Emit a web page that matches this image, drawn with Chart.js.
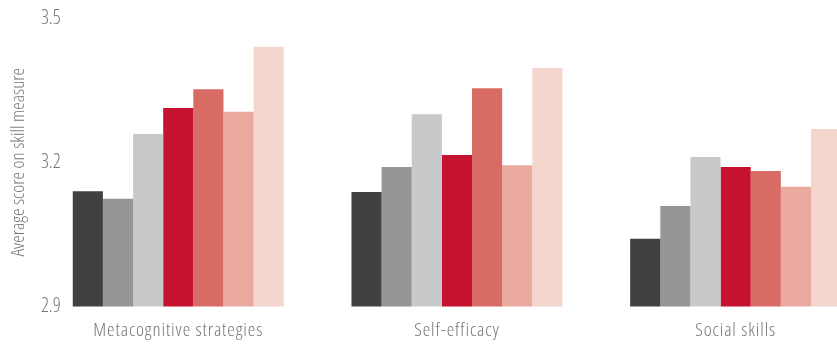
<!DOCTYPE html>
<html>
<head>
<meta charset="utf-8">
<script src="https://cdn.jsdelivr.net/npm/chart.js@4.4.1/dist/chart.umd.min.js"></script>
<style>
  html, body { margin: 0; padding: 0; background: #ffffff; overflow: hidden; }
  #wrap { width: 837px; height: 345px; overflow: hidden; position: relative; }
  canvas { display: block; }
</style>
</head>
<body>
<div id="wrap"><canvas id="c" width="875" height="345"></canvas></div>
<script>
const categories = ['Metacognitive strategies', 'Self-efficacy', 'Social skills'];
const seriesNames = ['Series 1', 'Series 2', 'Series 3', 'Series 4', 'Series 5', 'Series 6', 'Series 7'];
const series1 = [3.140, 3.138, 3.041];
const series2 = [3.124, 3.190, 3.109];
const series3 = [3.259, 3.300, 3.211];
const series4 = [3.313, 3.215, 3.190];
const series5 = [3.352, 3.354, 3.182];
const series6 = [3.305, 3.194, 3.149];
const series7 = [3.440, 3.396, 3.269];
const yTicks = [2.9, 3.2, 3.5];
const yTitle = 'Average score on skill measure';
const colors = ['#414141', '#959698', '#c8c9cb', '#c41230', '#d86b63', '#eaa99e', '#f4d6cf'];

const allSeries = [series1, series2, series3, series4, series5, series6, series7];
const TEXT = '#767676';
const X_SPACING = 0.9;

// pick a light condensed face that is installed
const mctx = document.createElement('canvas').getContext('2d');
function w(font, text) { mctx.font = font; return mctx.measureText(text).width; }
const probe = 'Metacognitive strategies 0123';
function installed(fam) {
  return w('40px ' + fam + ', monospace', probe) !== w('40px monospace', probe) ||
         w('40px ' + fam + ', serif', probe) !== w('40px serif', probe);
}
const cands = [
  { family: "'Open Sans'", weight: '300 condensed', stretch: true },
  { family: "'Noto Sans'", weight: '300 condensed', stretch: true },
  { family: "'Open Sans Condensed'", weight: '300' },
  { family: "'Noto Sans Condensed'", weight: '300' },
  { family: "'Liberation Sans Narrow'", weight: 'normal' },
  { family: "'DejaVu Sans Condensed'", weight: 'normal' }
];
let pick = cands[cands.length - 1];
for (const c of cands) {
  if (!installed(c.family)) continue;
  if (c.stretch) {
    const base = w('300 40px ' + c.family, probe);
    const cond = w(c.weight + ' 40px ' + c.family, probe);
    if (!(cond < base * 0.9)) continue;
  }
  pick = c; break;
}
function sizeFor(text, target, spacing, maxSize) {
  const s = 40 * (target - text.length * spacing) / w(pick.weight + ' 40px ' + pick.family, text);
  return Math.min(maxSize, s);
}
const xSize = sizeFor(categories[0], 170, X_SPACING, 20);
const tSize = sizeFor(yTitle, 192, 0, 19);
const ySize = sizeFor('3.5', 20, 0, 19.5);

const chart = new Chart(document.getElementById('c'), {
  type: 'bar',
  data: {
    labels: categories,
    datasets: allSeries.map((d, i) => ({
      label: seriesNames[i],
      data: d,
      backgroundColor: colors[i],
      borderWidth: 0,
      barPercentage: 1.0,
      categoryPercentage: 0.757
    }))
  },
  options: {
    responsive: false,
    animation: false,
    devicePixelRatio: 1,
    layout: { padding: { top: 18, right: 0, bottom: 0, left: 0 } },
    plugins: { legend: { display: false }, tooltip: { enabled: false } },
    scales: {
      x: {
        grid: { display: false, drawTicks: false },
        border: { display: false },
        ticks: {
          z: 1,
          color: TEXT,
          font: { family: pick.family, weight: pick.weight, size: xSize, lineHeight: 1.0 },
          padding: 330.5 - 306.6 - xSize / 2,
          maxRotation: 0
        },
        afterFit: (s) => { s.height = 38.4; }
      },
      y: {
        min: 2.9,
        max: 3.5,
        grid: { display: false, drawTicks: false },
        border: { display: false },
        afterBuildTicks: (s) => { s.ticks = yTicks.map(v => ({ value: v })); },
        ticks: {
          mirror: true,
          padding: 2,
          color: TEXT,
          font: { family: pick.family, weight: pick.weight, size: ySize },
          callback: (v) => v.toFixed(1)
        },
        title: {
          display: true,
          text: yTitle,
          color: TEXT,
          font: { family: pick.family, weight: pick.weight, size: tSize, lineHeight: 1.2 },
          padding: { top: 18.5 - tSize * 0.6, bottom: 0 }
        },
        afterFit: (s) => { s.width = 38.9; }
      }
    }
  }
});

// letter spacing only while the category labels are drawn (they are drawn last)
const xs = chart.scales.x;
const origDrawLabels = xs.drawLabels;
xs.drawLabels = function (area) {
  const ctx = this.ctx;
  ctx.save();
  ctx.letterSpacing = X_SPACING + 'px';
  origDrawLabels.call(this, area);
  ctx.restore();
  ctx.letterSpacing = '0px';
};
chart.draw();
</script>
</body>
</html>
